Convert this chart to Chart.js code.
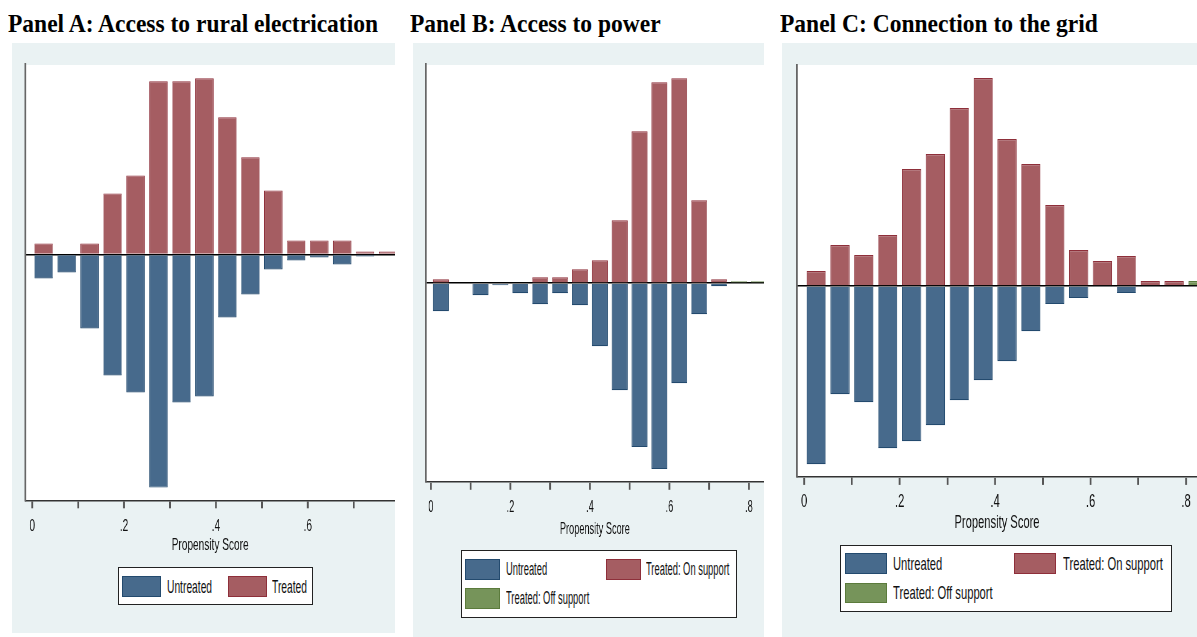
<!DOCTYPE html>
<html>
<head>
<meta charset="utf-8">
<script src="https://cdn.jsdelivr.net/npm/chart.js@4.4.1/dist/chart.umd.min.js"></script>
<style>
  body { margin: 0; background: #fff; width: 1197px; height: 637px; position: relative; overflow: hidden; font-family: 'Liberation Sans', Arial, sans-serif; }
  .ttl { position: absolute; top: 11px; font: bold 25px/25px 'Liberation Serif', 'Times New Roman', serif; color: #000; white-space: nowrap; transform-origin: 0 0; transform: scaleX(0.94); }
  .panel { position: absolute; background: #eaf2f3; overflow: hidden; }
  .panel canvas { position: absolute; left: 0; top: 0; }
  .leg { position: absolute; background: #fff; border: 1px solid #222; box-sizing: border-box; }
  .key { position: absolute; box-sizing: border-box; border: 1px solid; }
  .lab { position: absolute; white-space: nowrap; transform-origin: 0 50%; color: #111; }
</style>
</head>
<body>
<div class="ttl" style="left:8px">Panel A: Access to rural electrication</div>
<div class="ttl" style="left:410px">Panel B: Access to power</div>
<div class="ttl" style="left:780px">Panel C: Connection to the grid</div>

<div class="panel" id="panelA" style="left:12px;top:43px;width:383px;height:590px"><canvas id="chartA"></canvas></div>
<div class="panel" id="panelB" style="left:413px;top:43px;width:351px;height:594px"><canvas id="chartB"></canvas></div>
<div class="panel" id="panelC" style="left:782px;top:43px;width:415px;height:594px"><canvas id="chartC"></canvas></div>

<script>
// propensity score bins (width .05)
const scoreBins = [0.025, 0.075, 0.125, 0.175, 0.225, 0.275, 0.325, 0.375, 0.425,
                   0.475, 0.525, 0.575, 0.625, 0.675, 0.725, 0.775, 0.825];

const tickValuesA = [0, 0.2, 0.4, 0.6];
const tickLabelsA = ['0', '.2', '.4', '.6'];
const tickValuesBC = [0, 0.2, 0.4, 0.6, 0.8];
const tickLabelsBC = ['0', '.2', '.4', '.6', '.8'];
const xAxisTitle = 'Propensity Score';

// Panel A: Access to rural electrication
const treatedA   = [11, null, 11, 61, 79, 173, 173, 176, 137, 97, 64, 14, 14, 14, 3, 3, null];
const untreatedA = [-24, -18, -74, -121, -138, -233, -148, -142, -63, -40, -15, -6, -3, -10, -2, null, null];

// Panel B: Access to power
const onSupportB  = [4, null, null, null, null, 6, 6, 14, 23, 63, 152, 201, 205, 83, 4, null, null];
const offSupportB = [null, null, null, null, null, null, null, null, null, null, null, null, null, null, null, 2, 2];
const untreatedB  = [-28, null, -12, -2, -10, -21, -10, -22, -63, -107, -164, -186, -100, -31, -3, null, null];

// Panel C: Connection to the grid
const onSupportC  = [15, 41, 31, 51, 117, 132, 178, 208, 147, 122, 81, 36, 25, 30, 5, 5, null];
const offSupportC = [null, null, null, null, null, null, null, null, null, null, null, null, null, null, null, null, 5];
const untreatedC  = [-178, -108, -116, -162, -155, -139, -114, -94, -75, -45, -18, -12, -1, -7, -1, null, null];

const seriesNamesA = ['Untreated', 'Treated'];
const seriesNamesBC = ['Untreated', 'Treated: On support', 'Treated: Off support'];

const BLUE = { fill: '#476a8c', line: '#234a6e' };
const RED = { fill: '#a55d62', line: '#8e2f3a' };
const GREEN = { fill: '#76945a', line: '#5b7b3c' };

const plotBackground = {
    id: 'plotBackground',
    beforeDraw(chart) {
        const a = chart.chartArea;
        chart.ctx.save();
        chart.ctx.fillStyle = '#ffffff';
        chart.ctx.fillRect(a.left, a.top, a.right - a.left, a.bottom - a.top);
        chart.ctx.restore();
    }
};

// short tick marks under the x axis, at the scale's own tick positions
const xTickMarks = {
    id: 'xTickMarks',
    afterDraw(chart, args, opts) {
        const x = chart.scales.x;
        const ctx = chart.ctx;
        ctx.save();
        ctx.strokeStyle = opts.color;
        ctx.lineWidth = opts.width;
        x.ticks.forEach(t => {
            const px = x.getPixelForValue(t.value);
            ctx.beginPath();
            ctx.moveTo(px, x.top + 1);
            ctx.lineTo(px, x.top + opts.length);
            ctx.stroke();
        });
        ctx.restore();
    }
};

function buildPanel(p) {
    const canvas = document.getElementById(p.canvasId);
    const K = p.squeeze;
    canvas.width = Math.round(p.width / K);
    canvas.height = p.canvasH;
    canvas.style.width = p.width + 'px';
    canvas.style.height = p.canvasH + 'px';

    const font = { family: "'Liberation Sans', Arial, sans-serif", size: p.fontSize };

    const datasets = p.series.map(s => ({
        label: s.name,
        data: scoreBins.map((x, i) => ({ x: x, y: s.values[i] })),
        backgroundColor: s.color.fill,
        borderColor: s.color.line,
        borderWidth: 1.2,
        borderSkipped: 'start',
        barPercentage: 0.8,
        categoryPercentage: 1.0
    }));

    new Chart(canvas, {
        type: 'bar',
        data: { datasets: datasets },
        options: {
            responsive: false,
            animation: false,
            devicePixelRatio: 1,
            layout: { autoPadding: false, padding: { left: p.plotLeft / K, right: 0, top: p.plotTop, bottom: 0 } },
            plugins: {
                legend: { display: false },
                tooltip: { enabled: false },
                xTickMarks: { color: '#555', width: 1.8 / K, length: 8 }
            },
            scales: {
                x: {
                    type: 'linear',
                    stacked: true,
                    offset: false,
                    min: p.xMin,
                    max: p.xMax,
                    afterBuildTicks: s => { s.ticks = p.tickValues.map(v => ({ value: v })); },
                    afterFit: s => { s.height = p.axisH; },
                    grid: { drawOnChartArea: false, drawTicks: true, tickLength: 8, color: '#555', tickColor: '#555', tickWidth: 1.8 / K },
                    border: { color: '#333', width: 1.5 },
                    ticks: {
                        padding: p.tickPad - 1, font: font, color: '#111', maxRotation: 0, autoSkip: false,
                        callback: (v, i) => p.tickLabels[i]
                    },
                    title: { display: true, text: xAxisTitle, font: font, color: '#111', padding: 0 }
                },
                y: {
                    stacked: true,
                    min: p.yMin,
                    max: p.yMax,
                    z: 1,
                    afterBuildTicks: s => { s.ticks = [{ value: 0 }]; },
                    afterFit: s => { s.width = 0; },
                    ticks: { display: false },
                    grid: { drawTicks: false, color: '#000', lineWidth: 1.5 },
                    border: { display: true, color: '#666', width: 1.8 / K }
                }
            }
        },
        plugins: [plotBackground, xTickMarks]
    });

    // legend box
    const panel = document.getElementById(p.panelId);
    const leg = document.createElement('div');
    leg.className = 'leg';
    const b = p.legend.box;
    leg.style.cssText += `left:${b[0] - p.left}px;top:${b[1] - p.top}px;width:${b[2]}px;height:${b[3]}px`;
    p.series.forEach((s, i) => {
        const k = p.legend.keys[i];
        const key = document.createElement('div');
        key.className = 'key';
        key.style.cssText += `left:${k[0] - b[0] - 1}px;top:${k[1] - b[1] - 1}px;width:${k[2]}px;height:${k[3]}px;background:${s.color.fill};border-color:${s.color.line}`;
        leg.appendChild(key);
        const lab = document.createElement('div');
        lab.className = 'lab';
        lab.textContent = s.name;
        lab.style.cssText += `left:${k[4] - b[0] - 1}px;top:${k[1] - b[1] - 1}px;height:${k[3]}px;line-height:${k[3]}px;font-size:${p.legend.fontSize}px;transform:scaleX(${p.legend.squeeze})`;
        leg.appendChild(lab);
    });
    panel.appendChild(leg);
}

buildPanel({
    panelId: 'panelA', canvasId: 'chartA', left: 12, top: 43, width: 383, canvasH: 513,
    plotLeft: 13.3, plotTop: 22, axisH: 55.7, tickPad: 8.8, squeeze: 0.595, fontSize: 17,
    xMin: -0.015, xMax: 0.79, yMin: -245.7, yMax: 189.3,
    tickValues: tickValuesA, tickLabels: tickLabelsA,
    series: [
        { name: seriesNamesA[0], values: untreatedA, color: BLUE },
        { name: seriesNamesA[1], values: treatedA, color: RED }
    ],
    legend: { box: [118, 567, 195, 38], fontSize: 19, squeeze: 0.54,
              keys: [[122, 576, 39, 21, 167], [228, 576, 39, 21, 272]] }
});

buildPanel({
    panelId: 'panelB', canvasId: 'chartB', left: 413, top: 43, width: 351, canvasH: 497,
    plotLeft: 12.7, plotTop: 22, axisH: 58.2, tickPad: 8.8, squeeze: 0.541, fontSize: 17,
    xMin: -0.013, xMax: 0.838, yMin: -198.7, yMax: 218.3,
    tickValues: tickValuesBC, tickLabels: tickLabelsBC,
    series: [
        { name: seriesNamesBC[0], values: untreatedB, color: BLUE },
        { name: seriesNamesBC[1], values: onSupportB, color: RED },
        { name: seriesNamesBC[2], values: offSupportB, color: GREEN }
    ],
    legend: { box: [461, 550, 276, 68], fontSize: 18, squeeze: 0.52,
              keys: [[465, 559, 35, 21, 506], [606, 559, 35, 21, 646], [465, 588, 35, 21, 506]] }
});

buildPanel({
    panelId: 'panelC', canvasId: 'chartC', left: 782, top: 43, width: 415, canvasH: 491,
    plotLeft: 15, plotTop: 22, axisH: 57.1, tickPad: 7.4, squeeze: 0.603, fontSize: 18.5,
    xMin: -0.015, xMax: 0.823, yMin: -190.7, yMax: 221,
    tickValues: tickValuesBC, tickLabels: tickLabelsBC,
    series: [
        { name: seriesNamesBC[0], values: untreatedC, color: BLUE },
        { name: seriesNamesBC[1], values: onSupportC, color: RED },
        { name: seriesNamesBC[2], values: offSupportC, color: GREEN }
    ],
    legend: { box: [840, 545, 332, 67], fontSize: 19, squeeze: 0.59,
              keys: [[845, 553, 42, 21, 893], [1014, 553, 42, 21, 1063], [845, 583, 42, 20, 893]] }
});
</script>
</body>
</html>
